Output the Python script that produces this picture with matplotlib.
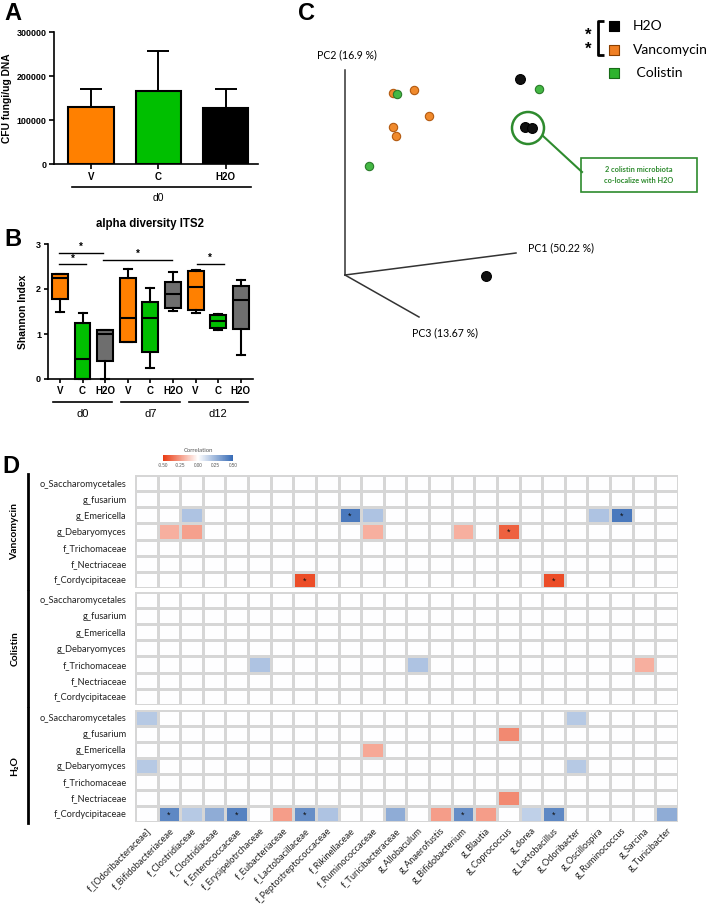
import numpy as np
import matplotlib.pyplot as plt
import matplotlib.transforms as mtransforms
from matplotlib.colors import LinearSegmentedColormap
from matplotlib.patches import Circle, Rectangle

W, H = 708, 908


def px(left, top, right, bottom):
    # pixel box -> figure rect
    return [left / W, 1 - bottom / H, (right - left) / W, (bottom - top) / H]


ORANGE = '#ff8000'
GREEN = '#00bf00'
GREY = '#6e6e6e'

# ---- A: CFU ----
cfu_groups = ['V', 'C', 'H2O']
cfu_mean = [130000, 166000, 127000]
cfu_sd = [40000, 91000, 43000]
cfu_colors = [ORANGE, GREEN, 'black']

# ---- B: Shannon ----
shannon_labels = ['V', 'C', 'H2O'] * 3
shannon_days = ['d0', 'd7', 'd12']
shannon_whislo = [1.49, 0.0, 0.0, 0.82, 0.24, 1.52, 1.47, 1.08, 0.54]
shannon_q1 = [1.77, 0.0, 0.41, 0.82, 0.61, 1.57, 1.53, 1.14, 1.12]
shannon_med = [2.25, 0.44, 1.00, 1.36, 1.36, 1.89, 2.04, 1.30, 1.75]
shannon_q3 = [2.33, 1.24, 1.08, 2.24, 1.72, 2.16, 2.39, 1.42, 2.06]
shannon_whishi = [2.33, 1.47, 1.08, 2.45, 2.03, 2.37, 2.42, 1.45, 2.20]
shannon_colors = [ORANGE, GREEN, GREY] * 3
sig_x0 = [-0.05, -0.05, 1.9, 6.05]
sig_x1 = [1.15, 1.9, 4.95, 7.25]
sig_y = [2.55, 2.80, 2.64, 2.56]

# ---- C: PCoA (projected coordinates) ----
pc_x = [393, 414, 429, 393, 396, 397, 369, 539, 520, 525, 532, 486]
pc_y = [93, 90, 116, 127, 136, 94, 166, 89, 79, 127, 128, 276]
pc_group = ['V', 'V', 'V', 'V', 'V', 'C', 'C', 'C', 'H', 'H', 'H', 'H']
pc_origin = (345, 275)
pc_ends = {'PC1 (50.22 %)': (516, 253), 'PC2 (16.9 %)': (345, 70), 'PC3 (13.67 %)': (419, 317)}
legend_names = ['H2O', 'Vancomycin', ' Colistin']

# ---- D: correlation heatmap ----
bacteria = ['f_[Odoribacteraceae]', 'f_Bifidobacteriaceae', 'f_Clostridiaceae', 'f_Clostridiaceae',
            'f_Enterococcaceae', 'f_Erysipelotrchaceae', 'f_Eubacteriaceae', 'f_Lactobacillaceae',
            'f_Peptostreptococcaceae', 'f_Rikinellaceae', 'f_Ruminococcaceae', 'f_Turicibacteraceae',
            'g_Allobaculum', 'g_Anaerofustis', 'g_Bifidobacterium', 'g_Blautia', 'g_Coprococcus',
            'g_dorea', 'g_Lactobacillus', 'g_Odoribacter', 'g_Oscillospira', 'g_Ruminococcus',
            'g_Sarcina', 'g_Turicibacter']
fungi = ['o_Saccharomycetales', 'g_fusarium', 'g_Emericella', 'g_Debaryomyces',
         'f_Trichomaceae', 'f_Nectriaceae', 'f_Cordycipitaceae']
# (fungus row, bacterium col, r, significant)
vanco_cells = [(2, 2, 0.20, 0), (2, 9, 0.45, 1), (2, 10, 0.20, 0), (2, 20, 0.20, 0), (2, 21, 0.45, 1),
               (3, 1, -0.20, 0), (3, 2, -0.24, 0), (3, 10, -0.20, 0), (3, 14, -0.20, 0), (3, 16, -0.40, 1),
               (6, 7, -0.45, 1), (6, 18, -0.45, 1)]
colistin_cells = [(4, 5, 0.20, 0), (4, 12, 0.20, 0), (4, 22, -0.20, 0)]
h2o_cells = [(0, 0, 0.18, 0), (0, 19, 0.18, 0), (1, 16, -0.30, 0), (2, 10, -0.22, 0), (3, 0, 0.18, 0),
             (3, 19, 0.18, 0), (5, 16, -0.30, 0),
             (6, 1, 0.40, 1), (6, 2, 0.18, 0), (6, 3, 0.28, 0), (6, 4, 0.42, 1), (6, 6, -0.25, 0),
             (6, 7, 0.38, 1), (6, 8, 0.20, 0), (6, 11, 0.28, 0), (6, 13, -0.25, 0), (6, 14, 0.38, 1),
             (6, 15, -0.25, 0), (6, 17, 0.16, 0), (6, 18, 0.40, 1), (6, 23, 0.28, 0)]

plt.rcParams['font.family'] = ['Liberation Sans', 'DejaVu Sans']
fig = plt.figure(figsize=(7.08, 9.08), dpi=100)


def letter(x, y, s):
    fig.text(x / W, 1 - y / H, s, fontsize=17, fontweight='bold', va='top', ha='left')


# ================= A =================
ax = fig.add_axes(px(54, 32, 258, 164))
xa = np.arange(len(cfu_groups))
ax.bar(xa, cfu_mean, width=0.67, color=cfu_colors, edgecolor='black', linewidth=1.5, zorder=2)
ax.errorbar(xa, cfu_mean, yerr=[np.zeros(len(xa)), cfu_sd], fmt='none', ecolor='black',
            elinewidth=1.4, capsize=8, capthick=1.4, zorder=1)
ax.set_xlim(-0.55, 2.48)
ax.set_ylim(0, 300000)
ax.set_yticks([0, 100000, 200000, 300000])
ax.set_yticklabels(['0', '100000', '200000', '300000'], fontsize=6.4, fontweight='bold')
ax.set_xticks(xa)
ax.set_xticklabels(cfu_groups, fontsize=7, fontweight='bold')
ax.set_ylabel('CFU fungi/ug DNA', fontsize=7.4, fontweight='bold', labelpad=3)
for s in ['top', 'right']:
    ax.spines[s].set_visible(False)
for s in ['left', 'bottom']:
    ax.spines[s].set_linewidth(1.2)
ax.tick_params(width=1.2, length=3.5, pad=2)
tr = mtransforms.blended_transform_factory(ax.transData, ax.transAxes)
ax.plot([-0.28, 2.37], [-0.174, -0.174], transform=tr, clip_on=False, color='black', lw=1.2)
ax.text(1, -0.258, 'd0', transform=tr, ha='center', va='center', fontsize=7.5)
letter(4, 2, 'A')

# ================= B =================
ax = fig.add_axes(px(48, 244, 253, 379))
stats = []
for i in range(len(shannon_med)):
    stats.append(dict(whislo=shannon_whislo[i], q1=shannon_q1[i], med=shannon_med[i],
                      q3=shannon_q3[i], whishi=shannon_whishi[i], fliers=[]))
pos = np.arange(len(stats))
bp = ax.bxp(stats, positions=pos, widths=0.7, patch_artist=True, showfliers=False,
            boxprops=dict(linewidth=1.5, edgecolor='black'),
            whiskerprops=dict(linewidth=1.5), capprops=dict(linewidth=1.5),
            medianprops=dict(color='black', linewidth=1.5))
for patch, c in zip(bp['boxes'], shannon_colors):
    patch.set_facecolor(c)
for art in bp['boxes'] + bp['whiskers'] + bp['caps'] + bp['medians']:
    art.set_clip_on(False)
ax.set_xlim(-0.53, 8.54)
ax.set_ylim(0, 3)
ax.set_yticks([0, 1, 2, 3])
ax.set_yticklabels(['0', '1', '2', '3'], fontsize=6.5, fontweight='bold')
ax.set_xticks(pos)
ax.set_xticklabels(shannon_labels, fontsize=7, fontweight='bold')
ax.set_ylabel('Shannon Index', fontsize=7.5, fontweight='bold', labelpad=6)
ax.set_title('alpha diversity ITS2', fontsize=8.3, fontweight='bold', pad=12)
for s in ['top', 'right']:
    ax.spines[s].set_visible(False)
for s in ['left', 'bottom']:
    ax.spines[s].set_linewidth(1.2)
ax.tick_params(width=1.2, length=3, pad=2)
for x0, x1, y in zip(sig_x0, sig_x1, sig_y):
    ax.plot([x0, x1], [y, y], color='black', lw=1, clip_on=False)
    ax.text((x0 + x1) / 2, y + 0.02, '*', ha='center', va='bottom', fontsize=7, fontweight='bold')
tr = mtransforms.blended_transform_factory(ax.transData, ax.transAxes)
for k, d in enumerate(shannon_days):
    ax.plot([3 * k - 0.3, 3 * k + 2.3], [-0.168, -0.168], transform=tr, clip_on=False,
            color='black', lw=1.2)
    ax.text(3 * k + 1, -0.26, d, transform=tr, ha='center', va='center', fontsize=8)
letter(4, 228, 'B')

# ================= C =================
ax = fig.add_axes(px(250, 0, 708, 360))
ax.set_xlim(250, 708)
ax.set_ylim(360, 0)
ax.axis('off')
for name, (ex, ey) in pc_ends.items():
    ax.plot([pc_origin[0], ex], [pc_origin[1], ey], color='#333333', lw=1.1)
ax.text(347, 55, 'PC2 (16.9 %)', family='Lato', fontsize=7.6, ha='center', va='center')
ax.text(528, 248, 'PC1 (50.22 %)', family='Lato', fontsize=7.6, ha='left', va='center')
ax.text(412, 333, 'PC3 (13.67 %)', family='Lato', fontsize=7.6, ha='left', va='center')
face = {'V': '#f08a2c', 'C': '#44b844', 'H': '#111111'}
edge = {'V': '#b35a10', 'C': '#2a7a2a', 'H': '#000000'}
size = {'V': 36, 'C': 36, 'H': 50}
for x, y, g in zip(pc_x, pc_y, pc_group):
    ax.scatter(x, y, s=size[g], color=face[g], edgecolors=edge[g], linewidths=0.8, zorder=3)
ax.add_patch(Circle((528, 128), 16, fill=False, edgecolor='#2e8b2e', lw=1.8))
ax.plot([543, 582], [136, 172], color='#2e8b2e', lw=1.5)
ax.add_patch(Rectangle((581, 158), 116, 34, fill=False, edgecolor='#2e8b2e', lw=1.2))
ax.text(639, 175, '2 colistin microbiota\nco-localize with H2O', family='Lato', fontsize=5.3,
        color='#2e8b2e', ha='center', va='center', fontweight='bold', linespacing=1.6)
leg_face = ['black', '#f07f23', '#2db32d']
leg_edge = ['black', '#8a3f00', '#176b17']
for k, (nm, fc, ec) in enumerate(zip(legend_names, leg_face, leg_edge)):
    y = 26 + 23.5 * k
    ax.scatter(614, y, marker='s', s=62, color=fc, edgecolors=ec, linewidths=0.8)
    ax.text(633, y, nm, family='Lato', fontsize=10, ha='left', va='center')
ax.plot([604, 598, 598, 604], [21, 21, 55, 55], color='black', lw=2, solid_capstyle='butt')
ax.text(588, 35, '*', fontsize=12, fontweight='bold', ha='center', va='center')
ax.text(588, 49, '*', fontsize=12, fontweight='bold', ha='center', va='center')
letter(298, 2, 'C')

# ================= D =================
cmap = LinearSegmentedColormap.from_list('corr', ['#ea3a12', '#ffffff', '#376bb6'])
blocks = [('Vancomycin', vanco_cells, 475, 588),
          ('Colistin', colistin_cells, 591.7, 705),
          ('H₂O', h2o_cells, 709.5, 822)]
mesh = None
for bi, (label, cells, top, bottom) in enumerate(blocks):
    ax = fig.add_axes(px(135, top, 678, bottom))
    mat = np.zeros((len(fungi), len(bacteria)))
    for r, c, v, sig in cells:
        mat[r, c] = v
    mesh = ax.pcolormesh(np.arange(len(bacteria) + 1), np.arange(len(fungi) + 1), mat, cmap=cmap,
                         vmin=-0.5, vmax=0.5, edgecolors='#d6d6d6', linewidth=1.0)
    for r, c, v, sig in cells:
        if sig:
            ax.text(c + 0.5, r + 0.55, '*', ha='center', va='center', fontsize=6.5, color='#111111')
    ax.set_xlim(0, len(bacteria))
    ax.set_ylim(len(fungi), 0)
    for s in ax.spines.values():
        s.set_visible(False)
    ax.set_yticks(np.arange(len(fungi)) + 0.5)
    ax.set_yticklabels(fungi, family='Lato', fontsize=6.7, color='#222222')
    ax.tick_params(length=0, pad=6)
    if bi == len(blocks) - 1:
        ax.set_xticks(np.arange(len(bacteria)) + 0.5)
        ax.set_xticklabels(bacteria, family='Lato', fontsize=6.7, rotation=45, ha='right',
                           rotation_mode='anchor', color='#222222')
        ax.tick_params(axis='x', pad=3)
    else:
        ax.set_xticks([])
    ax.plot([-0.197, -0.197], [1.01, -0.01], transform=ax.transAxes, clip_on=False,
            color='black', lw=2)
    ax.text(-0.221, 0.5, label, transform=ax.transAxes, rotation=90, ha='center', va='center',
            family=['Lato', 'DejaVu Sans'], fontsize=7.5, fontweight='bold')

cax = fig.add_axes(px(163, 455, 233, 461))
cb = fig.colorbar(mesh, cax=cax, orientation='horizontal')
cb.set_ticks([-0.5, -0.25, 0, 0.25, 0.5])
cb.set_ticklabels(['-0.50', '-0.25', '0.00', '0.25', '0.50'])
cb.ax.tick_params(labelsize=3.3, length=0, pad=1.5, labelcolor='#555555')
cb.outline.set_visible(False)
cax.set_title('Correlation', fontsize=4.3, pad=2, color='#555555', family='Lato')
letter(2, 455, 'D')

fig.savefig('out.png', dpi=100)
